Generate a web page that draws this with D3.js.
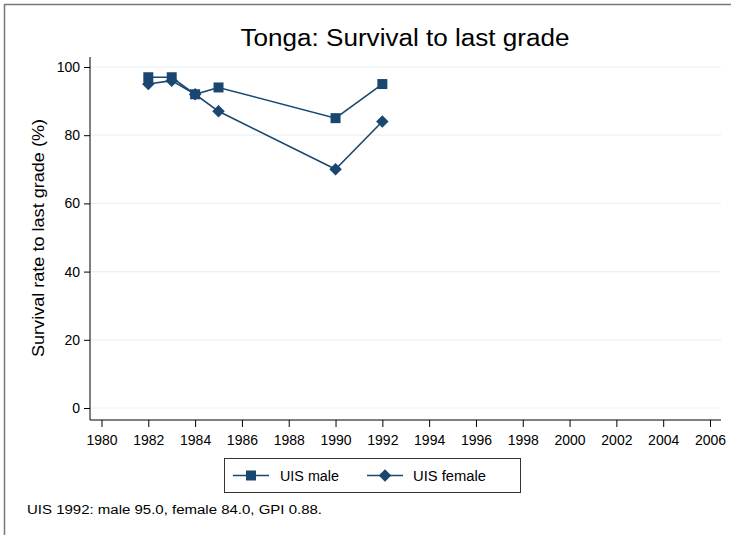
<!DOCTYPE html>
<html lang="en">
<head>
<meta charset="UTF-8">
<title>Tonga: Survival to last grade</title>
<style>
  body { margin: 0; background: #fff; }
  svg { display: block; font-family: "Liberation Sans", Arial, sans-serif; }
</style>
</head>
<body>
<svg id="chart" width="731" height="535"></svg>
<script src="https://d3js.org/d3.v7.min.js"></script>
<script>
// data
const years = [1982, 1983, 1984, 1985, 1990, 1992];
const maleValues = [97, 97, 92, 94, 85, 95];
const femaleValues = [95, 96, 92, 87, 70, 84];
const xTicks = [1980, 1982, 1984, 1986, 1988, 1990, 1992, 1994, 1996, 1998, 2000, 2002, 2004, 2006];
const yTicks = [0, 20, 40, 60, 80, 100];
const note = "UIS 1992: male 95.0, female 84.0, GPI 0.88.";

const navy = "#1a476f";
const svg = d3.select("#chart");

// outer frame (only top and left show)
svg.append("line").attr("x1", 4).attr("x2", 731).attr("y1", 4.5).attr("y2", 4.5)
  .attr("stroke", "#777").attr("stroke-width", 1.5);
svg.append("line").attr("x1", 4.5).attr("x2", 4.5).attr("y1", 4).attr("y2", 535)
  .attr("stroke", "#777").attr("stroke-width", 1.5);

const x = d3.scaleLinear().domain([1980, 2006]).range([101.5, 710]);
const y = d3.scaleLinear().domain([0, 100]).range([408, 67]);
const plotLeft = 90, plotRight = 721, plotBottom = 420, plotTop = 57;

// gridlines
svg.append("g").selectAll("line").data(yTicks).join("line")
  .attr("x1", plotLeft).attr("x2", plotRight)
  .attr("y1", d => y(d)).attr("y2", d => y(d))
  .attr("stroke", "#eaf2f3").attr("stroke-width", 1.2);

// y axis
const yAxis = svg.append("g").attr("transform", `translate(${plotLeft},0)`)
  .call(d3.axisLeft(y).tickValues(yTicks).tickSize(6).tickPadding(4));
yAxis.select(".domain").attr("d", `M0,${plotTop}V${plotBottom}`).attr("stroke", "#000");
yAxis.selectAll("text").attr("font-size", 14).attr("fill", "#000")
  .attr("font-family", "Liberation Sans, Arial, sans-serif");

// x axis
const xAxis = svg.append("g").attr("transform", `translate(0,${plotBottom})`)
  .call(d3.axisBottom(x).tickValues(xTicks).tickFormat(d3.format("d")).tickSize(7).tickPadding(8));
xAxis.select(".domain").attr("d", `M${plotLeft},0H${plotRight}`).attr("stroke", "#000");
xAxis.selectAll("text").attr("font-size", 14).attr("fill", "#000")
  .attr("font-family", "Liberation Sans, Arial, sans-serif");

// title and axis label
svg.append("text").attr("x", 405).attr("y", 46).attr("text-anchor", "middle")
  .attr("font-size", 23).attr("fill", "#000")
  .attr("textLength", 329).attr("lengthAdjust", "spacingAndGlyphs")
  .text("Tonga: Survival to last grade");
svg.append("text").attr("transform", "translate(44,238) rotate(-90)")
  .attr("text-anchor", "middle").attr("font-size", 16).attr("fill", "#000")
  .attr("textLength", 238).attr("lengthAdjust", "spacingAndGlyphs")
  .text("Survival rate to last grade (%)");

const line = d3.line().x(d => x(d[0])).y(d => y(d[1]));
const maleData = years.map((yr, i) => [yr, maleValues[i]]);
const femaleData = years.map((yr, i) => [yr, femaleValues[i]]);

const square = d3.symbol().type(d3.symbolSquare).size(100);
const diamond = d3.symbol().type(d3.symbolSquare).size(78);

function series(data, sym, rot) {
  svg.append("path").datum(data).attr("d", line)
    .attr("fill", "none").attr("stroke", navy).attr("stroke-width", 1.6);
  svg.append("g").selectAll("path").data(data).join("path")
    .attr("d", sym)
    .attr("transform", d => `translate(${x(d[0])},${y(d[1])}) rotate(${rot})`)
    .attr("fill", navy);
}
series(maleData, square, 0);
series(femaleData, diamond, 45);

// legend
const lg = svg.append("g");
lg.append("rect").attr("x", 224.5).attr("y", 458.5).attr("width", 296).attr("height", 34)
  .attr("fill", "#fff").attr("stroke", "#333").attr("stroke-width", 1);
const legendItems = [
  { label: "UIS male", sym: square, rot: 0, x0: 233, tx: 280, w: 59 },
  { label: "UIS female", sym: diamond, rot: 45, x0: 367, tx: 413, w: 73 }
];
legendItems.forEach(it => {
  lg.append("line").attr("x1", it.x0).attr("x2", it.x0 + 36).attr("y1", 475.5).attr("y2", 475.5)
    .attr("stroke", navy).attr("stroke-width", 1.6);
  lg.append("path").attr("d", it.sym)
    .attr("transform", `translate(${it.x0 + 18},475.5) rotate(${it.rot})`).attr("fill", navy);
  lg.append("text").attr("x", it.tx).attr("y", 480.5).attr("font-size", 14).attr("fill", "#000")
    .attr("textLength", it.w).attr("lengthAdjust", "spacingAndGlyphs").text(it.label);
});

svg.append("text").attr("x", 27).attr("y", 514).attr("font-size", 12.5).attr("fill", "#000")
  .attr("textLength", 295).attr("lengthAdjust", "spacingAndGlyphs").text(note);
</script>
</body>
</html>
